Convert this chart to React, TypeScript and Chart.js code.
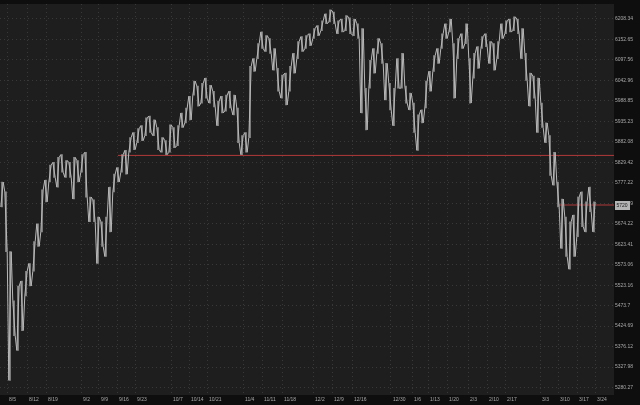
import React, { useEffect, useRef } from "react";
import { Chart, registerables } from "chart.js";

Chart.register(...registerables);

// Price bars (high / low), one per bar slot, left to right
const highs = [
  5779, 5754, 5605, 5485, 5521, 5533, 5557, 5576, 5630, 5674,
  5759, 5784, 5822, 5829, 5842, 5849, 5834, 5829, 5842, 5834,
  5849, 5855, 5741, 5734, 5691, 5679, 5691, 5766, 5799, 5816,
  5849, 5860, 5893, 5906, 5916, 5924, 5944, 5949, 5939, 5919,
  5893, 5885, 5926, 5919, 5924, 5957, 5970, 6001, 6041, 6028,
  6035, 6049, 6030, 6014, 5988, 6001, 6004, 6014, 6004, 5970,
  5898, 5906, 6080, 6101, 6141, 6173, 6163, 6155, 6128, 6075,
  6057, 6062, 6080, 6115, 6147, 6160, 6163, 6168, 6182, 6190,
  6203, 6222, 6233, 6227, 6203, 6208, 6217, 6211, 6208, 6195,
  6182, 6022, 6096, 6128, 6155, 6141, 6088, 6035, 6022, 6101,
  6115, 6028, 6009, 5983, 5952, 5965, 6041, 6067, 6109, 6128,
  6168, 6195, 6208, 6141, 6155, 6168, 6195, 6101, 6115, 6133,
  6160, 6168, 6147, 6141, 6147, 6195, 6203, 6208, 6214, 6208,
  6182, 6115, 6062, 6054, 6049, 5983, 5931, 5898, 5855, 5779,
  5736, 5691, 5679, 5696, 5741, 5754, 5729, 5766, 5729,
];

const lows = [
  5716, 5605, 5297, 5402, 5367, 5414, 5497, 5521, 5557, 5618,
  5654, 5729, 5779, 5791, 5766, 5804, 5791, 5791, 5736, 5779,
  5804, 5741, 5679, 5679, 5576, 5618, 5593, 5654, 5754, 5779,
  5804, 5799, 5855, 5862, 5880, 5885, 5898, 5906, 5898, 5862,
  5855, 5849, 5855, 5867, 5872, 5919, 5931, 5939, 6004, 5975,
  5983, 5996, 5983, 5973, 5924, 5957, 5962, 5970, 5952, 5880,
  5849, 5855, 5893, 6067, 6101, 6128, 6120, 6115, 6070, 6014,
  5996, 5978, 6014, 6062, 6101, 6120, 6128, 6136, 6155, 6163,
  6176, 6195, 6200, 6195, 6168, 6173, 6176, 6168, 6163, 6155,
  5957, 5913, 6022, 6062, 6115, 6088, 5991, 5965, 5924, 6022,
  6022, 5983, 5965, 5906, 5860, 5931, 5970, 6014, 6067, 6088,
  6128, 6155, 6173, 5996, 6101, 6128, 6141, 5983, 6049, 6075,
  6128, 6133, 6088, 6070, 6101, 6155, 6168, 6173, 6176, 6168,
  6101, 6043, 5975, 5996, 5906, 5919, 5880, 5796, 5771, 5716,
  5613, 5593, 5562, 5593, 5642, 5667, 5654, 5704, 5654,
];

// Right price axis ticks
const yTickValues = [
  6208.34, 6152.65, 6097.56, 6042.96, 5988.85, 5935.23, 5882.08, 5829.42,
  5777.22, 5725.49, 5674.22, 5623.41, 5573.06, 5523.16, 5473.7, 5424.69,
  5376.12, 5327.98, 5280.27,
];
const yTickLabels = [
  "6208.34", "6152.65", "6097.56", "6042.96", "5988.85", "5935.23", "5882.08", "5829.42",
  "5777.22", "5725.49", "5674.22", "5623.41", "5573.06", "5523.16", "5473.7", "5424.69",
  "5376.12", "5327.98", "5280.27",
];
const yMin = 5263;
const yMax = 6249;

// Date axis: label and bar slot where it sits
const xTickLabels = [
  "8/5", "8/12", "8/19", "9/2", "9/9", "9/16", "9/23", "10/7", "10/14", "10/21",
  "11/4", "11/11", "11/18", "12/2", "12/9", "12/16", "12/30", "1/6", "1/13", "1/20",
  "2/3", "2/10", "2/17", "3/3", "3/10", "3/17", "3/24",
];
const xTickAt = [
  1.25, 6.25, 11, 19.75, 24.25, 28.75, 33.25, 42.25, 46.75, 51.25,
  60.25, 65, 70, 77.75, 82.5, 87.5, 97.25, 102.5, 106.5, 111.25,
  116.5, 121.25, 125.75, 134.5, 139, 143.75, 148.25,
];
const xMax = 153;

// Horizontal level lines: start slot and price
const levelFrom = [29, 139.25];
const levelPrice = [5847, 5721];
const lastPrice = 5721;
const lastPriceLabel = "5720";

const FONT = "'Liberation Sans', Arial, sans-serif";

export default function App() {
  const ref = useRef<HTMLCanvasElement | null>(null);

  useEffect(() => {
    if (!ref.current) return;

    const bgPlugin = {
      id: "bg",
      beforeDraw(chart: any) {
        const { ctx, chartArea: a, width, height } = chart;
        ctx.save();
        ctx.fillStyle = "#0e0e0e";
        ctx.fillRect(0, 0, width, height);
        ctx.fillStyle = "#1e1e1e";
        ctx.fillRect(a.left, a.top, a.right - a.left, a.bottom - a.top);
        ctx.restore();
      },
    };

    const tagPlugin = {
      id: "tag",
      afterDraw(chart: any) {
        const { ctx, chartArea: a } = chart;
        const y = chart.scales.y.getPixelForValue(lastPrice);
        ctx.save();
        ctx.fillStyle = "#b4b4b4";
        ctx.fillRect(a.right + 1, Math.round(y) - 4, 15, 9);
        ctx.fillStyle = "#1a1a1a";
        ctx.font = `5px ${FONT}`;
        ctx.textAlign = "left";
        ctx.textBaseline = "middle";
        ctx.fillText(lastPriceLabel, a.right + 2.5, Math.round(y) + 0.5);
        ctx.restore();
      },
    };

    // Each slot drawn as a high-low stroke; joined into one jagged trace
    const trace: { x: number; y: number }[] = [];
    highs.forEach((h, i) => {
      const l = lows[i];
      if (i % 2 === 0) {
        trace.push({ x: i - 0.3, y: l }, { x: i + 0.3, y: h });
      } else {
        trace.push({ x: i - 0.3, y: h }, { x: i + 0.3, y: l });
      }
    });

    const levelSets = levelPrice.map((p, k) => ({
      type: "line" as const,
      data: [
        { x: levelFrom[k], y: p },
        { x: xMax, y: p },
      ],
      borderColor: "#b23838",
      borderWidth: 1,
      borderDash: [],
      pointRadius: 0,
      order: 2,
    }));

    const chart = new Chart(ref.current, {
      type: "line",
      data: {
        datasets: [
          ...levelSets,
          {
            type: "line",
            data: trace,
            borderColor: "#b8b8b8",
            borderWidth: 1,
            pointRadius: 0,
            tension: 0,
            order: 1,
          } as any,
          {
            type: "bar",
            data: highs.map((h, i) => ({ x: i, y: [lows[i], h] })) as any,
            backgroundColor: "#8e8e8e",
            borderWidth: 0,
            barThickness: 1,
            order: 1,
          } as any,
        ],
      },
      options: {
        responsive: false,
        animation: false,
        devicePixelRatio: 1,
        events: [],
        layout: { padding: 0 },
        plugins: { legend: { display: false }, tooltip: { enabled: false } },
        scales: {
          x: {
            type: "linear",
            min: -0.5,
            max: xMax,
            offset: false,
            afterBuildTicks: (s: any) => {
              s.ticks = xTickAt.map((v) => ({ value: v }));
            },
            afterFit: (s: any) => {
              s.height = 10;
            },
            grid: { color: "#383838", drawTicks: false, lineWidth: 1, offset: false },
            border: { display: false, dash: [1, 3] },
            ticks: {
              autoSkip: false,
              maxRotation: 0,
              align: "start",
              labelOffset: 2,
              padding: 2,
              color: "#a8a8a8",
              font: { size: 5, family: FONT },
              callback: (v: any) => xTickLabels[xTickAt.indexOf(v)] ?? "",
            },
          },
          y: {
            type: "logarithmic",
            position: "right",
            min: yMin,
            max: yMax,
            afterBuildTicks: (s: any) => {
              s.ticks = yTickValues.map((v) => ({ value: v }));
            },
            afterFit: (s: any) => {
              s.width = 26;
            },
            grid: { color: "#383838", drawTicks: false, lineWidth: 1 },
            border: { display: false, dash: [1, 3] },
            ticks: {
              autoSkip: false,
              padding: 1,
              color: "#a8a8a8",
              font: { size: 5, family: FONT },
              callback: (v: any) => yTickLabels[yTickValues.indexOf(v)] ?? "",
            },
          },
        },
      } as any,
      plugins: [bgPlugin, tagPlugin],
    });

    return () => chart.destroy();
  }, []);

  return (
    <div style={{ position: "fixed", left: 0, top: 0, width: 640, height: 405 }}>
      <canvas ref={ref} width={640} height={405} style={{ display: "block" }} />
    </div>
  );
}
